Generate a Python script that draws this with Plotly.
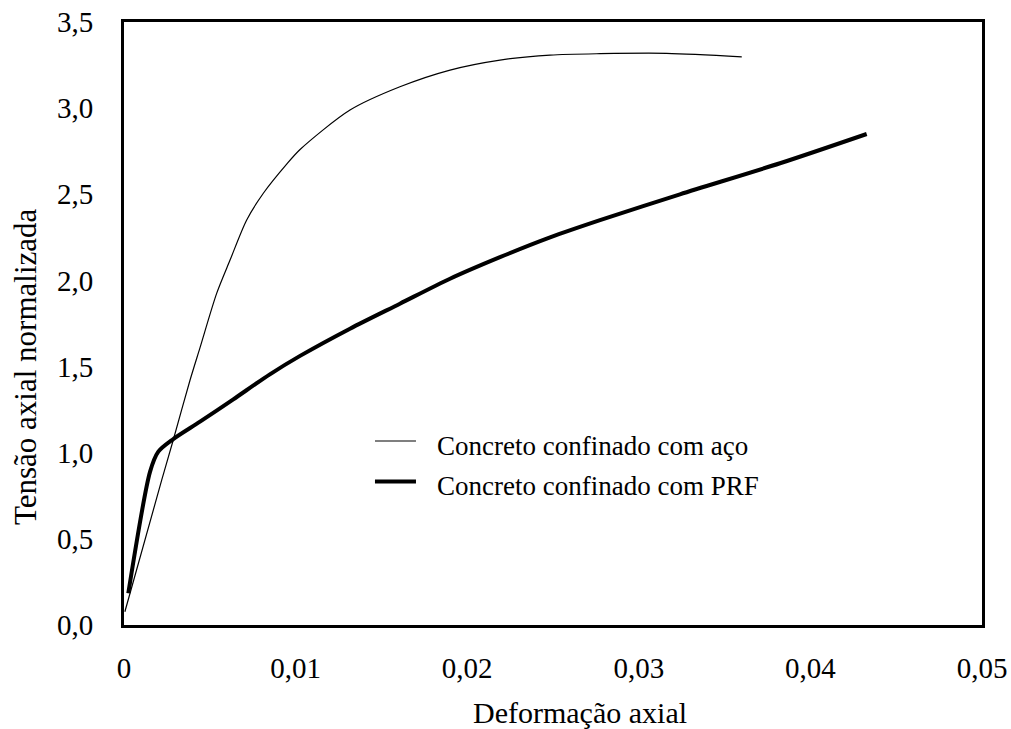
import plotly.graph_objects as go

# ---- data ----
steel_strain = [0.00005, 0.0022, 0.00287, 0.00385, 0.00443, 0.0054, 0.00618, 0.00715,
                0.00812, 0.00948, 0.01026, 0.01317, 0.01608, 0.019, 0.02191, 0.02483,
                0.02774, 0.03162, 0.036]
steel_stress = [0.077, 0.842, 1.074, 1.422, 1.61, 1.925, 2.118, 2.351,
                2.506, 2.675, 2.76, 2.989, 3.124, 3.221, 3.279, 3.308,
                3.316, 3.318, 3.298]

frp_strain = [0.00025, 0.00152, 0.002, 0.00287, 0.00443, 0.00637, 0.0085,
              0.01026, 0.01317, 0.01608, 0.019, 0.02191, 0.02483, 0.02774, 0.0324,
              0.03823, 0.04328]
frp_stress = [0.184, 0.89, 1.006, 1.079, 1.18, 1.31, 1.455,
              1.562, 1.72, 1.865, 2.01, 2.135, 2.25, 2.35, 2.50,
              2.68, 2.85]

x_tickvals = [0, 0.01, 0.02, 0.03, 0.04, 0.05]
x_ticktext = ["0", "0,01", "0,02", "0,03", "0,04", "0,05"]
y_tickvals = [0, 0.5, 1.0, 1.5, 2.0, 2.5, 3.0, 3.5]
y_ticktext = ["0,0", "0,5", "1,0", "1,5", "2,0", "2,5", "3,0", "3,5"]

series_names = ["Concreto confinado com aço", "Concreto confinado com PRF"]
x_title = "Deformação axial"
y_title = "Tensão axial normalizada"

FONT = "Times New Roman, Liberation Serif, serif"

fig = go.Figure()
fig.add_trace(go.Scatter(x=steel_strain, y=steel_stress, mode="lines", name=series_names[0],
                         line=dict(color="black", width=1.2, shape="spline", smoothing=0.8),
                         showlegend=False))
fig.add_trace(go.Scatter(x=frp_strain, y=frp_stress, mode="lines", name=series_names[1],
                         line=dict(color="black", width=4, shape="spline", smoothing=0.8),
                         showlegend=False))

# legend drawn as samples + labels
leg_x0, leg_x1, leg_tx = 0.2925, 0.3403, 0.3625
leg_rows = [(0.3051, 1.2), (0.238, 4)]
for (yy, w), name in zip(leg_rows, series_names):
    fig.add_shape(type="line", xref="paper", yref="paper", x0=leg_x0, x1=leg_x1, y0=yy, y1=yy,
                  line=dict(color="black", width=w))
    fig.add_annotation(xref="paper", yref="paper", x=leg_tx, y=yy - 0.008, text=name,
                       showarrow=False, xanchor="left", yanchor="middle",
                       font=dict(family=FONT, size=27, color="black"))

fig.add_annotation(xref="paper", yref="paper", x=0.5315, y=-0.1443, text=x_title,
                   showarrow=False, xanchor="center", yanchor="middle",
                   font=dict(family=FONT, size=30, color="black"))
fig.add_annotation(xref="paper", yref="paper", x=-0.1154, y=0.4295, text=y_title,
                   showarrow=False, xanchor="center", yanchor="middle", textangle=-90,
                   font=dict(family=FONT, size=31, color="black"))

fig.update_xaxes(range=[0, 0.05], tickvals=x_tickvals, ticktext=x_ticktext,
                 showgrid=False, zeroline=False, showline=True, mirror=True,
                 linecolor="black", linewidth=3, ticks="", ticklabelstandoff=15,
                 automargin=False, ticklabeloverflow="allow",
                 tickfont=dict(family=FONT, size=29, color="black"))
fig.update_yaxes(range=[0, 3.5], tickvals=y_tickvals, ticktext=y_ticktext,
                 showgrid=False, zeroline=False, showline=True, mirror=True,
                 linecolor="black", linewidth=3, ticks="", ticklabelstandoff=22,
                 automargin=False, ticklabeloverflow="allow",
                 tickfont=dict(family=FONT, size=29, color="black"))

fig.update_layout(width=1011, height=729, margin=dict(l=124, r=29, t=22, b=104),
                  paper_bgcolor="white", plot_bgcolor="white", showlegend=False,
                  font=dict(family=FONT, color="black"))

# remove the default 8px page margin so the figure fills the window exactly
fig.write_html("out.html", config={"displayModeBar": False},
               post_script="document.body.style.margin='0';")
